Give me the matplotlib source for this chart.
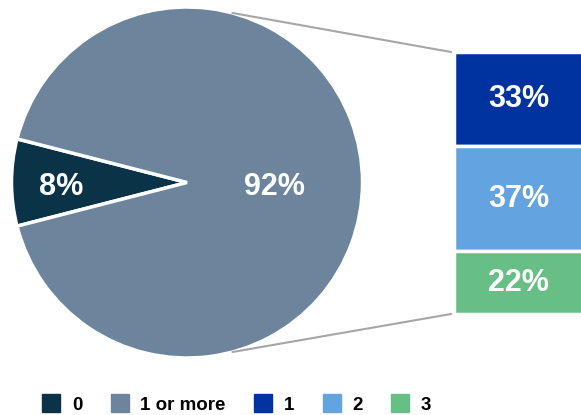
import numpy as np
import matplotlib
matplotlib.use('Agg')
import matplotlib.pyplot as plt
from matplotlib.patches import ConnectionPatch
from matplotlib.lines import Line2D

plt.rcParams['font.family'] = ['Liberation Sans', 'DejaVu Sans']

pie_labels = ['0', '1 or more']
pie_values = [8, 92]
pie_colors = ['#0b3348', '#6c849c']

bar_labels = ['1', '2', '3']
bar_values = [33, 37, 22]
bar_colors = ['#0033a0', '#63a3e0', '#67bf86']

W, H = 581, 415
fig = plt.figure(figsize=(W / 100, H / 100), dpi=100)

# pie: centre (187, 182.5) px, radius 175.5 px
cx, cy, r = 187, 182.5, 175.5
ax_pie = fig.add_axes([(cx - r) / W, (H - cy - r) / H, 2 * r / W, 2 * r / H])
half = pie_values[0] / 100 * 360 / 2
wedges, _ = ax_pie.pie(pie_values, colors=pie_colors, radius=1, startangle=180 - half,
                       counterclock=True,
                       wedgeprops=dict(edgecolor='white', linewidth=2.5))
ax_pie.set_xlim(-1, 1); ax_pie.set_ylim(-1, 1)
ax_pie.axis('off')
ax_pie.text(-0.72, -0.025, f'{pie_values[0]}%', color='white', fontsize=22, fontweight='bold',
            ha='center', va='center')
ax_pie.text(0.5, -0.025, f'{pie_values[1]}%', color='white', fontsize=22, fontweight='bold',
            ha='center', va='center')

# stacked bar breaking down the "1 or more" slice (runs off the right edge)
bx0, bx1, btop, bbot = 454, 601, 52, 314
ax_bar = fig.add_axes([bx0 / W, (H - bbot) / H, (bx1 - bx0) / W, (bbot - btop) / H])
total = sum(bar_values)
bottom = total
for lab, v, c in zip(bar_labels, bar_values, bar_colors):
    bottom -= v
    ax_bar.bar(0.5, v, width=1.0, bottom=bottom, color=c, edgecolor='white', linewidth=2.5)
    ax_bar.text(0.44, bottom + v / 2, f'{v}%', color='white', fontsize=22, fontweight='bold',
                ha='center', va='center')
ax_bar.set_xlim(0, 1); ax_bar.set_ylim(0, total)
ax_bar.axis('off')

# connector lines from the pie edge to the bar corners
ang = np.deg2rad(75)
for sgn, yb in [(1, total), (-1, 0)]:
    con = ConnectionPatch(xyA=(np.cos(ang), sgn * np.sin(ang)), coordsA=ax_pie.transData,
                          xyB=(-0.02, yb), coordsB=ax_bar.transData,
                          color='#a6a6a6', linewidth=1.5)
    fig.add_artist(con)

handles = [Line2D([], [], marker='s', linestyle='none', markersize=12.5, color=c)
           for c in pie_colors + bar_colors]
fig.legend(handles, pie_labels + bar_labels, loc='center', bbox_to_anchor=(0.407, 1 - 405 / H),
           ncol=5, frameon=False, prop=dict(size=13.5, weight='bold'),
           handletextpad=0.6, columnspacing=1.5, handlelength=1.0)

fig.savefig('out.png', dpi=100)
